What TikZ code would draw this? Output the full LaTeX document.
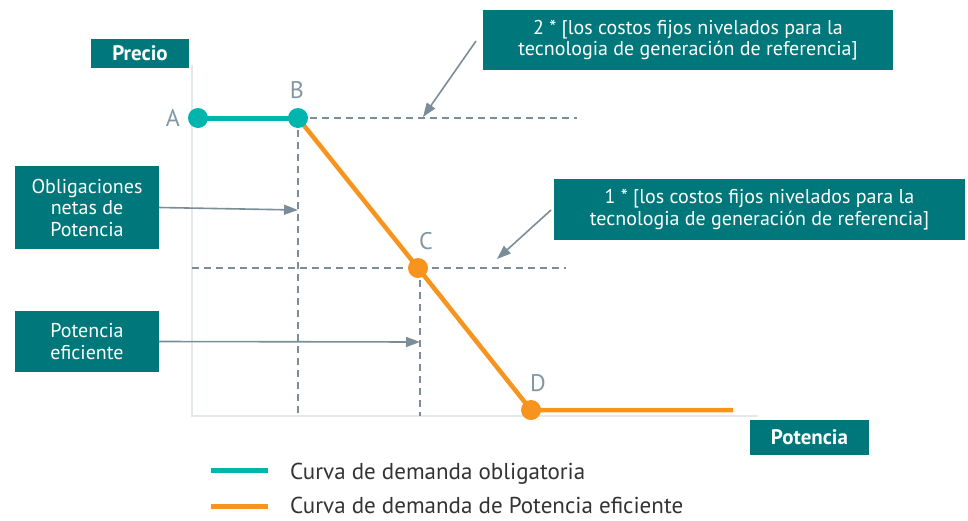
\documentclass[tikz,border=0pt]{standalone}
\usepackage{fontspec}
\setmainfont{PT Sans}
\usetikzlibrary{arrows.meta}
\definecolor{boxteal}{HTML}{00777A}
\definecolor{lineteal}{HTML}{00B5AD}
\definecolor{orng}{HTML}{F7941D}
\definecolor{gry}{HTML}{7B8D99}
\definecolor{axisgray}{HTML}{E3E8EB}
\definecolor{lbl}{HTML}{8296A3}
\definecolor{legtxt}{HTML}{333333}
\tikzset{
  tbox/.style={fill=boxteal, text=white, inner sep=0pt, align=center, font=\fontsize{20}{21.5}\selectfont},
  hbox/.style={fill=boxteal, text=white, inner sep=0pt, font=\bfseries\fontsize{21}{24}\selectfont},
  dashln/.style={draw=gry, line width=2.2pt, dash pattern=on 7pt off 5pt},
  pointer/.style={draw=gry, line width=1.6pt, -{Triangle[length=14pt,width=10pt]}},
  dot/.style={circle, inner sep=0pt, minimum size=20pt},
  ptlbl/.style={text=lbl, font=\fontsize{24}{26}\selectfont, inner sep=0pt},
  legtext/.style={text=legtxt, anchor=base west, inner sep=0pt, text depth=0pt, font=\fontsize{23}{26}\selectfont}
}
\begin{document}
\begin{tikzpicture}[x=1pt,y=-1pt]
\useasboundingbox (0,0) rectangle (968,520);
% axes
\coordinate (ytop) at (192,65);
\coordinate (org) at (192,416);
\coordinate (xend) at (758,416);
\draw[axisgray, line width=2pt] (ytop) -- (org) -- (xend);
% points
\coordinate (Ac) at (198,118);
\coordinate (Bc) at (298,118);
\coordinate (Cc) at (418,268);
\coordinate (Dc) at (531,410);
\coordinate (Ec) at (733,410);
\coordinate (Bh) at (577,118);
\coordinate (Bv) at (298,416);
\coordinate (Cl) at (192,268);
\coordinate (Cr) at (566,268);
\coordinate (Ct) at (420,268);
\coordinate (Cv) at (420,416);
% dashed guides
\draw[dashln] (Bc) -- (Bh);
\draw[dashln] (Bc) -- (Bv);
\draw[dashln] (Cl) -- (Cr);
\draw[dashln] (Ct) -- (Cv);
% curves
\draw[orng, line width=4.5pt] (Bc) -- (Cc) -- (Dc) -- (Ec);
\draw[lineteal, line width=5pt] (Ac) -- (Bc);
\node[dot, fill=lineteal] (A) at (Ac) {};
\node[dot, fill=lineteal] (B) at (Bc) {};
\node[dot, fill=orng] (C) at (Cc) {};
\node[dot, fill=orng] (D) at (Dc) {};
\node[ptlbl] (lA) at (173,118) {A};
\node[ptlbl] (lB) at (297,90) {B};
\node[ptlbl] (lC) at (426,241) {C};
\node[ptlbl] (lD) at (538,383) {D};
% boxes
\node[hbox, minimum width=98pt, minimum height=29pt] (precio) at (140,53.5) {Precio};
\node[hbox, minimum width=119pt, minimum height=35pt] (potencia) at (809.5,437.5) {Potencia};
\node[tbox, minimum width=410pt, minimum height=60pt] (dos) at (688,40) {2 * [los costos fijos nivelados para la\\tecnologia de generación de referencia]};
\node[tbox, minimum width=411pt, minimum height=61pt] (uno) at (759.5,209.5) {1 * [los costos fijos nivelados para la\\tecnologia de generación de referencia]};
\node[tbox, minimum width=144pt, minimum height=83pt] (oblig) at (87,207.5) {Obligaciones\\netas de\\Potencia};
\node[tbox, minimum width=144pt, minimum height=61pt] (efic) at (87,341.5) {Potencia\\eficiente};
% pointers
\coordinate (dosS) at (476,41);
\coordinate (dosT) at (423,117);
\coordinate (unoS) at (551,210);
\coordinate (unoT) at (497,259);
\coordinate (obT) at (298,210);
\coordinate (efT) at (420,342);
\draw[pointer] (dosS) -- (dosT);
\draw[pointer] (unoS) -- (unoT);
\draw[pointer] (oblig.east) -- (obT);
\draw[pointer] (efic.east) -- (efT);
% legend
\coordinate (l1a) at (211,470);
\coordinate (l1b) at (268,470);
\coordinate (l2a) at (211,506);
\coordinate (l2b) at (268,506);
\draw[lineteal, line width=5pt] (l1a) -- (l1b);
\draw[orng, line width=5pt] (l2a) -- (l2b);
\node[legtext] (leg1) at (290,479) {Curva de demanda obligatoria};
\node[legtext] (leg2) at (290,513) {Curva de demanda de Potencia eficiente};
\end{tikzpicture}
\end{document}
